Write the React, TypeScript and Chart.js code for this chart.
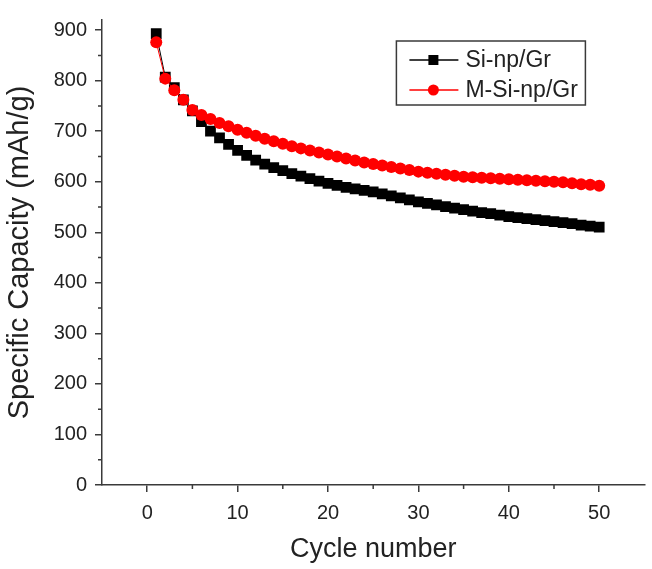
import React, { useEffect, useRef } from "react";
import { Chart, registerables } from "chart.js";

Chart.register(...registerables);

const cycles = Array.from({ length: 50 }, (_, i) => i + 1);

const siNpGr = [
  893, 807, 786, 762, 740, 719, 700, 687, 674, 662,
  652, 643, 635, 628, 622, 616, 611, 606, 601, 597,
  593, 589, 586, 583, 580, 576, 572, 568, 564, 560,
  557, 554, 551, 548, 545, 542, 539, 537, 534, 531,
  529, 527, 525, 523, 521, 519, 517, 514, 512, 510,
];

const mSiNpGr = [
  876, 804, 781, 762, 742, 732, 724, 716, 710, 703,
  697, 691, 685, 680, 675, 670, 666, 662, 658, 654,
  650, 646, 642, 638, 635, 632, 629, 626, 623, 620,
  618, 616, 614, 612, 610, 609, 608, 607, 606, 605,
  604, 603, 602, 601, 600, 599, 597, 595, 594, 592,
];

const seriesNames = ["Si-np/Gr", "M-Si-np/Gr"];
const xTickValues = [0, 10, 20, 30, 40, 50];
const xMinorTicks = [5, 15, 25, 35, 45];
const yTickValues = [0, 100, 200, 300, 400, 500, 600, 700, 800, 900];
const yMinorTicks = [50, 150, 250, 350, 450, 550, 650, 750, 850];

const FONT = "'Liberation Sans', Arial, sans-serif";
const AXIS_COLOR = "#3a3a3a";

const minorTicksPlugin = {
  id: "minorTicks",
  afterDraw(chart: any) {
    const ctx = chart.ctx;
    const xs = chart.scales.x;
    const ys = chart.scales.y;
    const area = chart.chartArea;
    ctx.save();
    ctx.strokeStyle = AXIS_COLOR;
    ctx.lineWidth = 1.5;
    ctx.beginPath();
    xMinorTicks.forEach((v) => {
      const px = xs.getPixelForValue(v);
      ctx.moveTo(px, area.bottom);
      ctx.lineTo(px, area.bottom + 4);
    });
    yMinorTicks.forEach((v) => {
      const py = ys.getPixelForValue(v);
      ctx.moveTo(area.left, py);
      ctx.lineTo(area.left - 4, py);
    });
    ctx.stroke();
    ctx.restore();
  },
};

const boxLegendPlugin = {
  id: "boxLegend",
  afterDraw(chart: any) {
    const ctx = chart.ctx;
    const area = chart.chartArea;
    const left = area.right - 248;
    const top = area.top + 21;
    const w = 189;
    const h = 64;
    ctx.save();
    ctx.strokeStyle = AXIS_COLOR;
    ctx.lineWidth = 1.5;
    ctx.strokeRect(left, top, w, h);
    chart.data.datasets.forEach((ds: any, i: number) => {
      const rowY = top + 19 + i * 30;
      ctx.strokeStyle = ds.borderColor;
      ctx.lineWidth = 1.5;
      ctx.beginPath();
      ctx.moveTo(left + 13, rowY);
      ctx.lineTo(left + 62, rowY);
      ctx.stroke();
      ctx.fillStyle = ds.backgroundColor;
      const cx = left + 37;
      if (ds.pointStyle === "rect") {
        ctx.fillRect(cx - 5, rowY - 5, 10, 10);
      } else {
        ctx.beginPath();
        ctx.arc(cx, rowY, 5.5, 0, Math.PI * 2);
        ctx.fill();
      }
      ctx.fillStyle = "#222";
      ctx.font = `23px ${FONT}`;
      ctx.textBaseline = "middle";
      ctx.textAlign = "left";
      ctx.fillText(ds.label, left + 69, rowY + 1);
    });
    ctx.restore();
  },
};

export default function App() {
  const canvasRef = useRef<HTMLCanvasElement | null>(null);

  useEffect(() => {
    const canvas = canvasRef.current;
    if (!canvas) return;
    const chart = new Chart(canvas, {
      type: "line",
      data: {
        datasets: [
          {
            label: seriesNames[0],
            data: cycles.map((c, i) => ({ x: c, y: siNpGr[i] })),
            borderColor: "#000000",
            backgroundColor: "#000000",
            borderWidth: 1,
            pointStyle: "rect",
            pointRadius: 7.6,
            pointBorderWidth: 0,
            order: 2,
          },
          {
            label: seriesNames[1],
            data: cycles.map((c, i) => ({ x: c, y: mSiNpGr[i] })),
            borderColor: "#ff0000",
            backgroundColor: "#ff0000",
            borderWidth: 1,
            pointStyle: "circle",
            pointRadius: 6,
            pointBorderWidth: 0,
            order: 1,
          },
        ],
      },
      options: {
        responsive: false,
        animation: false,
        layout: { padding: { top: 13, right: 2, left: 0, bottom: 0 } },
        plugins: {
          legend: { display: false },
          tooltip: { enabled: false },
        },
        scales: {
          x: {
            type: "linear",
            min: -5,
            max: 55,
            afterBuildTicks: (scale: any) => {
              scale.ticks = xTickValues.map((v) => ({ value: v }));
            },
            afterFit: (scale: any) => {
              scale.height = 84;
            },
            ticks: {
              color: "#222",
              font: { family: FONT, size: 20 },
              padding: 9,
              maxRotation: 0,
            },
            grid: {
              drawOnChartArea: false,
              drawTicks: true,
              tickLength: 7,
              color: AXIS_COLOR,
              lineWidth: 1.5,
            },
            border: { display: true, color: AXIS_COLOR, width: 1.5 },
            title: {
              display: true,
              text: "Cycle number",
              color: "#222",
              font: { family: FONT, size: 27 },
              padding: { top: 4, bottom: 3 },
            },
          },
          y: {
            type: "linear",
            min: 0,
            max: 920,
            afterBuildTicks: (scale: any) => {
              scale.ticks = yTickValues.map((v) => ({ value: v }));
            },
            afterFit: (scale: any) => {
              scale.width = 102;
            },
            ticks: {
              color: "#222",
              font: { family: FONT, size: 20 },
              padding: 8,
            },
            grid: {
              drawOnChartArea: false,
              drawTicks: true,
              tickLength: 7,
              color: AXIS_COLOR,
              lineWidth: 1.5,
            },
            border: { display: true, color: AXIS_COLOR, width: 1.5 },
            title: {
              display: true,
              text: "Specific Capacity (mAh/g)",
              color: "#222",
              font: { family: FONT, size: 29 },
              padding: { top: 3, bottom: 4 },
            },
          },
        },
      },
      plugins: [minorTicksPlugin, boxLegendPlugin],
    });
    return () => chart.destroy();
  }, []);

  return (
    <div style={{ position: "fixed", left: 0, top: 0, width: 652, height: 569, background: "#fff" }}>
      <canvas ref={canvasRef} width={652} height={569} style={{ display: "block" }} />
    </div>
  );
}
